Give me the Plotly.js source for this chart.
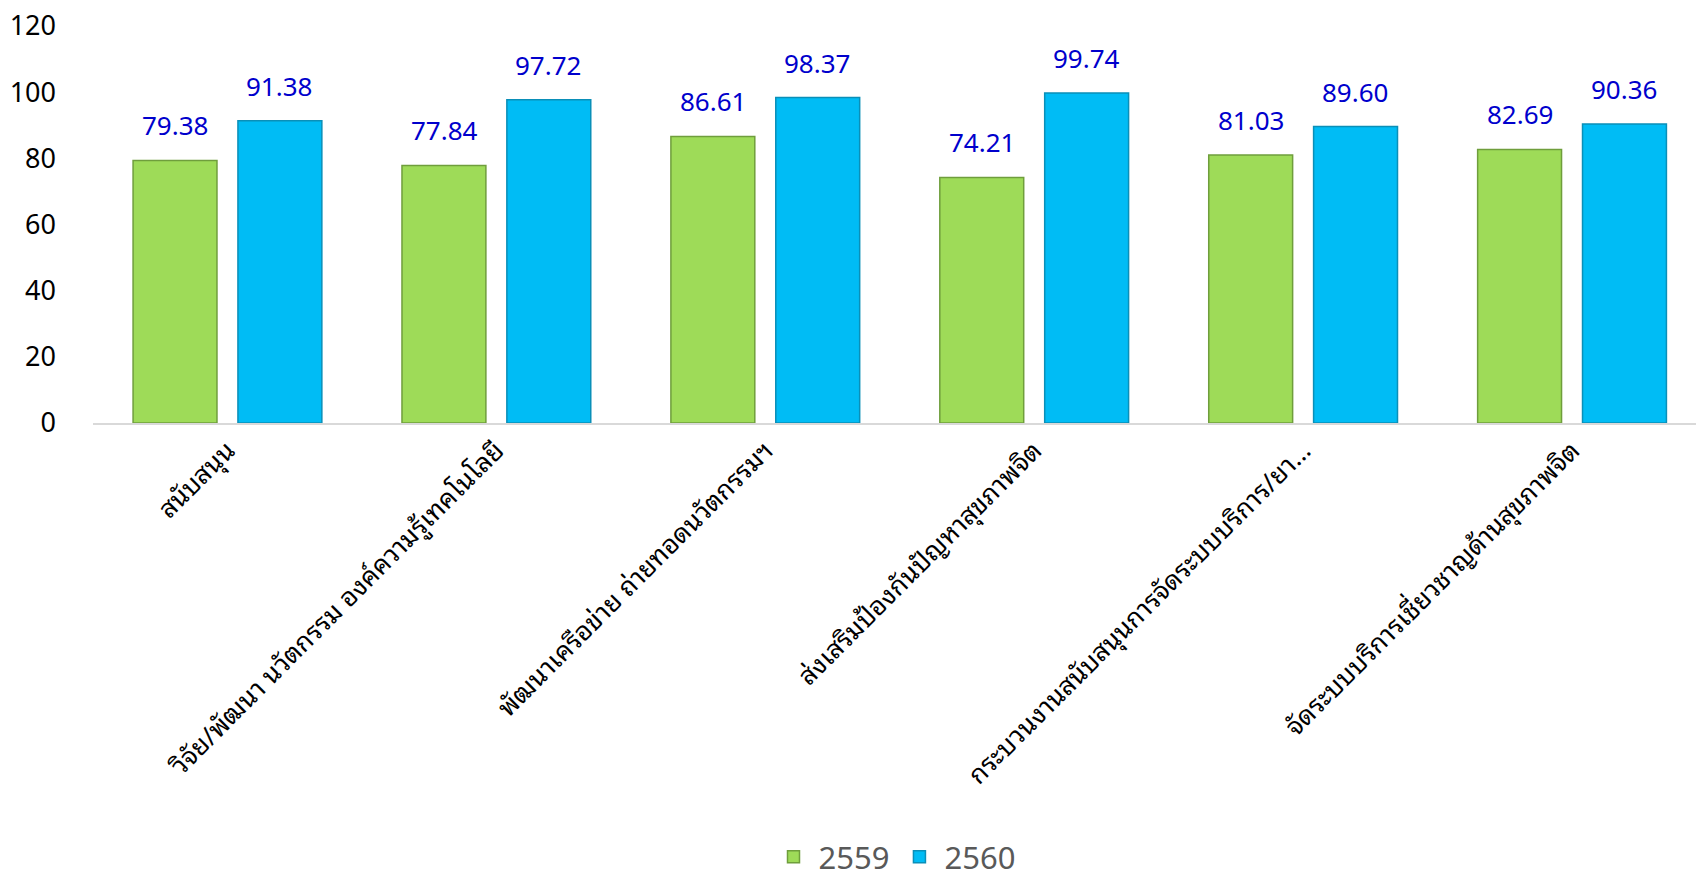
<!DOCTYPE html>
<html>
<head>
<meta charset="utf-8">
<script src="https://cdn.plot.ly/plotly-3.0.1.min.js"></script>
<style>html,body{margin:0;padding:0;background:#fff;}#chart{width:1696px;height:879px;}</style>
</head>
<body>
<div id="chart"></div>
<script>
const categories = [
  "สนับสนุน",
  "วิจัย/พัฒนา นวัตกรรม องค์ความรู้เทคโนโลยี",
  "พัฒนาเครือข่าย ถ่ายทอดนวัตกรรมฯ",
  "ส่งเสริมป้องกันปัญหาสุขภาพจิต",
  "กระบวนงานสนับสนุนการจัดระบบบริการ/ยา…",
  "จัดระบบบริการเชี่ยวชาญด้านสุขภาพจิต"
];
const series2559 = [79.38, 77.84, 86.61, 74.21, 81.03, 82.69];
const series2560 = [91.38, 97.72, 98.37, 99.74, 89.60, 90.36];
const seriesNames = ["2559", "2560"];
const yTicks = [0, 20, 40, 60, 80, 100, 120];

const FONT = "Tahoma, Noto Sans Thai Looped, Noto Sans Thai, Noto Sans, sans-serif";

const traces = [
  {type: "bar", name: seriesNames[0], x: categories, y: series2559,
   marker: {color: "#9edb58", line: {color: "#6f9e3c", width: 1.5}}, hoverinfo: "x+y"},
  {type: "bar", name: seriesNames[1], x: categories, y: series2560,
   marker: {color: "#00bcf5", line: {color: "#0a8fb8", width: 1.5}}, hoverinfo: "x+y"}
];

const off = 0.1934;
const annotations = [];
[series2559, series2560].forEach((vals, s) => {
  vals.forEach((v, i) => {
    annotations.push({
      xref: "x", yref: "y", x: i + (s === 0 ? -off : off), y: v,
      text: v.toFixed(2), showarrow: false, yanchor: "bottom", yshift: 14,
      font: {family: FONT, size: 26, color: "#0000cc"}
    });
  });
});

const layout = {
  width: 1696, height: 879,
  margin: {l: 93, r: 0, t: 26, b: 456},
  paper_bgcolor: "#fff", plot_bgcolor: "#fff",
  barmode: "group", bargap: 0.22, bargroupgap: 0.2,
  showlegend: true,
  legend: {orientation: "h", x: 0.5, xanchor: "center", yref: "container", y: 0.025, yanchor: "middle",
           itemwidth: 40, font: {family: FONT, size: 31, color: "#595959"}},
  xaxis: {type: "category", range: [-0.5, 5.461], showline: true, linecolor: "#d9d9d9", linewidth: 2,
          showgrid: false, zeroline: false, ticks: "", tickangle: -45,
          tickfont: {family: FONT, size: 26, color: "#000"}},
  yaxis: {range: [0, 120], tickvals: yTicks, ticktext: yTicks.map(String), showgrid: false, zeroline: false,
          showline: false, ticks: "", ticklabelstandoff: 36,
          tickfont: {family: FONT, size: 27, color: "#000"}},
  annotations: annotations,
  font: {family: FONT}
};

Plotly.newPlot("chart", traces, layout, {displayModeBar: false, staticPlot: true});
</script>
</body>
</html>
